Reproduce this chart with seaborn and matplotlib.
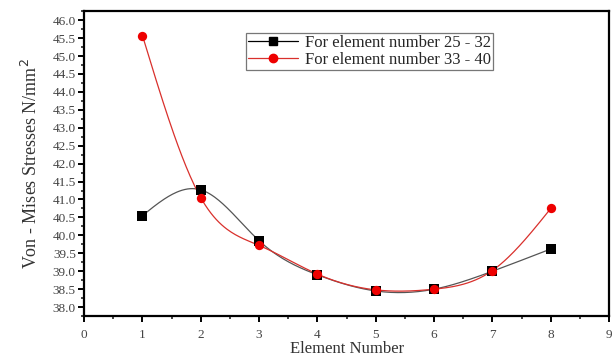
import matplotlib
matplotlib.use("Agg")
import matplotlib.pyplot as plt
import numpy as np
import pandas as pd
import seaborn as sns
from matplotlib.lines import Line2D
from matplotlib.ticker import MultipleLocator

# data
elements = [1, 2, 3, 4, 5, 6, 7, 8]
stress_25_32 = [40.55, 41.27, 39.85, 38.90, 38.45, 38.50, 39.00, 39.62]
stress_33_40 = [45.57, 41.05, 39.72, 38.92, 38.48, 38.50, 39.02, 40.75]
labels = ["For element number 25 - 32", "For element number 33 - 40"]


def natural_spline(x, y, num=300):
    """Smooth connecting curve through the points (natural cubic spline)."""
    x = np.asarray(x, float)
    y = np.asarray(y, float)
    n = len(x)
    h = np.diff(x)
    A = np.zeros((n, n))
    r = np.zeros(n)
    A[0, 0] = A[-1, -1] = 1
    for i in range(1, n - 1):
        A[i, i - 1] = h[i - 1]
        A[i, i] = 2 * (h[i - 1] + h[i])
        A[i, i + 1] = h[i]
        r[i] = 3 * ((y[i + 1] - y[i]) / h[i] - (y[i] - y[i - 1]) / h[i - 1])
    c = np.linalg.solve(A, r)
    b = (y[1:] - y[:-1]) / h - h * (2 * c[:-1] + c[1:]) / 3
    d = (c[1:] - c[:-1]) / (3 * h)
    xs = np.linspace(x[0], x[-1], num)
    idx = np.clip(np.searchsorted(x, xs) - 1, 0, n - 2)
    dx = xs - x[idx]
    return xs, y[idx] + b[idx] * dx + c[idx] * dx ** 2 + d[idx] * dx ** 3


sns.set_theme(style="ticks")
plt.rcParams["font.family"] = ["Liberation Serif", "DejaVu Serif"]

fig = plt.figure(figsize=(6.14, 3.6), dpi=100)
ax = fig.add_axes([0.137, 0.122, 0.855, 0.847])

series = [
    (stress_25_32, "#555555", "black", "s", labels[0]),
    (stress_33_40, "#d9302c", "#ee0000", "o", labels[1]),
]
for values, line_col, mark_col, marker, lab in series:
    xs, ys = natural_spline(elements, values)
    curve = pd.DataFrame({"x": xs, "y": ys})
    sns.lineplot(data=curve, x="x", y="y", color=line_col, linewidth=0.9,
                 ax=ax, legend=False)
    pts = pd.DataFrame({"x": elements, "y": values})
    sns.scatterplot(data=pts, x="x", y="y", color=mark_col, marker=marker,
                    s=45, edgecolor=mark_col, linewidth=0, ax=ax, legend=False,
                    zorder=3)

ax.set_xlim(0, 9)
ax.set_ylim(37.75, 46.25)
ax.xaxis.set_major_locator(MultipleLocator(1))
ax.xaxis.set_minor_locator(MultipleLocator(0.5))
ax.yaxis.set_major_locator(MultipleLocator(0.5))
ax.yaxis.set_minor_locator(MultipleLocator(0.25))
ax.yaxis.set_major_formatter(matplotlib.ticker.FormatStrFormatter("%.1f"))

for side in ["left", "right", "top", "bottom"]:
    ax.spines[side].set_visible(True)
    ax.spines[side].set_linewidth(1.6)
    ax.spines[side].set_color("black")
ax.tick_params(which="major", direction="out", length=4, width=1.4,
               labelsize=9.5, labelcolor="#444444", colors="black", pad=2)
ax.tick_params(which="minor", direction="out", length=2.5, width=1.2)
ax.tick_params(axis="x", pad=5)

ax.set_xlabel("Element Number", fontsize=12, color="#333333", labelpad=0)
ax.set_ylabel("Von - Mises Stresses N/mm$^2$", fontsize=13, color="#333333",
              labelpad=8)

handles = [
    Line2D([], [], color="black", linewidth=0.9, marker="s", markersize=6,
           markerfacecolor="black", markeredgecolor="black"),
    Line2D([], [], color="#d9302c", linewidth=0.9, marker="o", markersize=6,
           markerfacecolor="#ee0000", markeredgecolor="#ee0000"),
]
leg = ax.legend(handles, labels, loc="upper left", bbox_to_anchor=(0.309, 0.928),
                fontsize=12, frameon=True, fancybox=False, handlelength=3.0,
                handletextpad=0.4, borderpad=0.12, labelspacing=0.05,
                borderaxespad=0)
leg.get_frame().set_edgecolor("#555555")
leg.get_frame().set_linewidth(0.9)

fig.savefig("out.png", dpi=100)
